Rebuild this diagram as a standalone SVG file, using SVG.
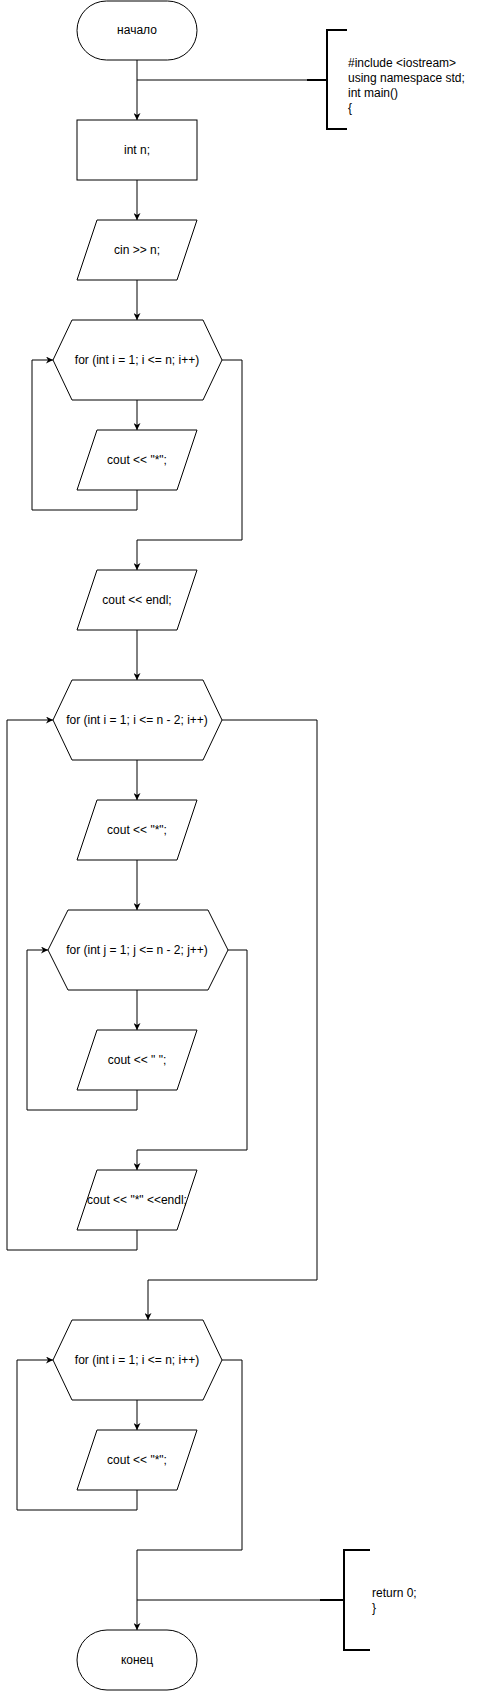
<svg xmlns="http://www.w3.org/2000/svg" width="486" height="1691" viewBox="0 0 486 1691">
<style>
.s{fill:#fff;stroke:#000;stroke-width:1}
.c{fill:none;stroke:#000;stroke-width:1}
.b{fill:none;stroke:#000;stroke-width:2}
text{font-family:"Liberation Sans",Arial,sans-serif;font-size:12px;fill:#000}
.m{text-anchor:middle;dominant-baseline:central}
</style>
<defs>
<marker id="a" viewBox="0 0 10 10" refX="10" refY="5" markerWidth="7" markerHeight="7" orient="auto" markerUnits="userSpaceOnUse">
<path d="M0,0 L10,5 L0,10 L3,5 Z" fill="#000"/>
</marker>
</defs>
<rect width="486" height="1691" fill="#fff"/>
<g id="connectors">
<path class="c" d="M137,60 V120" marker-end="url(#a)"/>
<path class="c" d="M137,180 V220" marker-end="url(#a)"/>
<path class="c" d="M137,280 V320" marker-end="url(#a)"/>
<path class="c" d="M137,400 V430" marker-end="url(#a)"/>
<path class="c" d="M137,490 V510 H32 V360 H53" marker-end="url(#a)"/>
<path class="c" d="M222,360 H242 V540 H137 V570" marker-end="url(#a)"/>
<path class="c" d="M137,630 V680" marker-end="url(#a)"/>
<path class="c" d="M137,760 V800" marker-end="url(#a)"/>
<path class="c" d="M137,860 V910" marker-end="url(#a)"/>
<path class="c" d="M137,990 V1030" marker-end="url(#a)"/>
<path class="c" d="M137,1090 V1110 H27 V950 H48" marker-end="url(#a)"/>
<path class="c" d="M228,950 H247 V1150 H137 V1170" marker-end="url(#a)"/>
<path class="c" d="M137,1230 V1250 H7 V720 H53" marker-end="url(#a)"/>
<path class="c" d="M222,720 H317 V1280 H148 V1320" marker-end="url(#a)"/>
<path class="c" d="M137,1400 V1430" marker-end="url(#a)"/>
<path class="c" d="M137,1490 V1510 H17 V1360 H53" marker-end="url(#a)"/>
<path class="c" d="M222,1360 H242 V1550 H137 V1630" marker-end="url(#a)"/>
<path class="c" d="M137,80 H307"/>
<path class="c" d="M137,1600 H320"/>
</g>
<g id="start">
<rect class="s" x="77" y="1" width="120" height="59" rx="29.5"/>
<text class="m" x="137" y="30">начало</text>
</g>
<g id="note1">
<path class="b" d="M307,80 H327 M347,30 H327 V129 H347"/>
<text x="348" y="67">#include &lt;iostream&gt;</text>
<text x="348" y="82">using namespace std;</text>
<text x="348" y="97">int main()</text>
<text x="348" y="112">{</text>
</g>
<g id="intn">
<rect class="s" x="77" y="120" width="120" height="60"/>
<text class="m" x="137" y="150">int n;</text>
</g>
<g id="cin">
<path class="s" d="M97,220 H197 L177,280 H77 Z"/>
<text class="m" x="137" y="250">cin &gt;&gt; n;</text>
</g>
<g id="for1">
<path class="s" d="M72,320 H203 L222,360 L203,400 H72 L53,360 Z"/>
<text class="m" x="137" y="360">for (int i = 1; i &lt;= n; i++)</text>
</g>
<g id="cout1">
<path class="s" d="M97,430 H197 L177,490 H77 Z"/>
<text class="m" x="137" y="460">cout &lt;&lt; "*";</text>
</g>
<g id="endl1">
<path class="s" d="M97,570 H197 L177,630 H77 Z"/>
<text class="m" x="137" y="600">cout &lt;&lt; endl;</text>
</g>
<g id="for2">
<path class="s" d="M72,680 H203 L222,720 L203,760 H72 L53,720 Z"/>
<text class="m" x="137" y="720">for (int i = 1; i &lt;= n - 2; i++)</text>
</g>
<g id="cout2">
<path class="s" d="M97,800 H197 L177,860 H77 Z"/>
<text class="m" x="137" y="830">cout &lt;&lt; "*";</text>
</g>
<g id="for3">
<path class="s" d="M68,910 H208 L228,950 L208,990 H68 L48,950 Z"/>
<text class="m" x="137" y="950">for (int j = 1; j &lt;= n - 2; j++)</text>
</g>
<g id="cout3">
<path class="s" d="M97,1030 H197 L177,1090 H77 Z"/>
<text class="m" x="137" y="1060">cout &lt;&lt; " ";</text>
</g>
<g id="cout4">
<path class="s" d="M97,1170 H197 L177,1230 H77 Z"/>
<text class="m" x="137" y="1200">cout &lt;&lt; "*" &lt;&lt;endl;</text>
</g>
<g id="for4">
<path class="s" d="M72,1320 H203 L222,1360 L203,1400 H72 L53,1360 Z"/>
<text class="m" x="137" y="1360">for (int i = 1; i &lt;= n; i++)</text>
</g>
<g id="cout5">
<path class="s" d="M97,1430 H197 L177,1490 H77 Z"/>
<text class="m" x="137" y="1460">cout &lt;&lt; "*";</text>
</g>
<g id="note2">
<path class="b" d="M320,1600 H344 M370,1550 H344 V1650 H370"/>
<text x="372" y="1597">return 0;</text>
<text x="372" y="1612">}</text>
</g>
<g id="end">
<rect class="s" x="77" y="1630" width="120" height="60" rx="30"/>
<text class="m" x="137" y="1660">конец</text>
</g>
</svg>
